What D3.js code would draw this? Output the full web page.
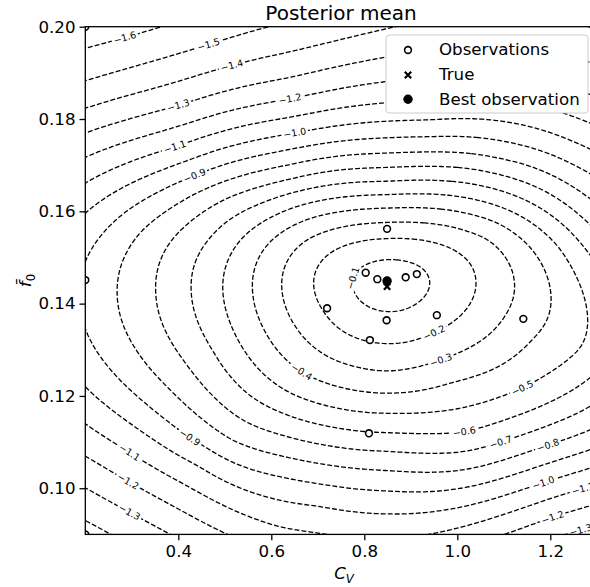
<!DOCTYPE html>
<html>
<head>
<meta charset="utf-8">
<script src="https://cdn.jsdelivr.net/npm/d3@7"></script>
<style>
  body { margin: 0; background: #fff; }
  svg { display: block; font-family: "DejaVu Sans", sans-serif; }
</style>
</head>
<body>
<svg id="chart" width="590" height="587"></svg>
<script>
// contour levels drawn (all negative -> dashed)
var levels = [-1.6, -1.5, -1.4, -1.3, -1.2, -1.1, -1.0, -0.9, -0.8, -0.7, -0.6, -0.5, -0.4, -0.3, -0.2, -0.1];
var xTicks = [0.4, 0.6, 0.8, 1.0, 1.2];
var yTicks = [0.10, 0.12, 0.14, 0.16, 0.18, 0.20];

// observed points
var obsCv = [0.849, 0.803, 0.828, 0.889, 0.913, 0.720, 0.848, 0.956, 1.142, 0.812, 0.810, 0.849, 0.2, 0.2, 0.2];
var obsF0 = [0.1562, 0.1467, 0.1453, 0.1457, 0.1464, 0.1390, 0.1364, 0.1375, 0.1367, 0.1321, 0.1119, 0.1449, 0.1451, 0.2, 0.09];
var trueCv = [0.849], trueF0 = [0.1437];
var bestCv = [0.849], bestF0 = [0.1449];

// posterior mean: [C_V, f0, value] at points lying on the contours
var contourSamples = [
  [0.849, 0.1449, -0.01],
  [0.769, 0.1458, -0.1], [0.790, 0.1484, -0.1], [0.849, 0.1497, -0.1], [0.920, 0.1490, -0.1],
  [0.941, 0.1451, -0.1], [0.920, 0.1408, -0.1], [0.849, 0.1390, -0.1], [0.783, 0.1419, -0.1],
  [0.690, 0.1451, -0.2], [0.733, 0.1516, -0.2], [0.849, 0.1538, -0.2], [0.978, 0.1527, -0.2], [1.036, 0.1451, -0.2],
  [1.013, 0.1380, -0.2], [0.948, 0.1343, -0.2], [0.849, 0.1317, -0.2], [0.812, 0.1321, -0.2], [0.720, 0.1390, -0.2],
  [0.623, 0.1445, -0.3], [0.673, 0.1542, -0.3], [0.849, 0.1575, -0.3], [1.070, 0.1553, -0.3], [1.120, 0.1451, -0.3],
  [1.081, 0.1343, -0.3], [0.969, 0.1271, -0.3], [0.849, 0.1247, -0.3], [0.726, 0.1282, -0.3], [0.651, 0.1353, -0.3],
  [0.561, 0.1430, -0.4], [0.597, 0.1538, -0.4], [0.683, 0.1585, -0.4], [0.849, 0.1607, -0.4], [1.049, 0.1585, -0.4],
  [1.156, 0.1527, -0.4], [1.199, 0.1449, -0.4], [1.146, 0.1332, -0.4], [0.984, 0.1245, -0.4], [0.849, 0.1206, -0.4],
  [0.662, 0.1252, -0.4], [0.587, 0.1343, -0.4],
  [0.496, 0.1430, -0.5], [0.533, 0.1538, -0.5], [0.640, 0.1607, -0.5], [0.849, 0.1635, -0.5], [1.092, 0.1607, -0.5],
  [1.221, 0.1527, -0.5], [1.270, 0.1423, -0.5], [1.285, 0.1300, -0.5], [1.141, 0.1213, -0.5], [0.849, 0.1165, -0.5],
  [0.640, 0.1202, -0.5], [0.533, 0.1310, -0.5],
  [0.429, 0.1430, -0.6], [0.468, 0.1538, -0.6], [0.576, 0.1614, -0.6], [0.640, 0.1640, -0.6], [0.849, 0.1663, -0.6],
  [1.092, 0.1646, -0.6], [1.285, 0.1501, -0.6], [1.285, 0.1245, -0.6], [1.017, 0.1113, -0.6], [0.810, 0.1119, -0.6],
  [0.619, 0.1170, -0.6], [0.479, 0.1300, -0.6],
  [0.354, 0.1430, -0.7], [0.393, 0.1549, -0.7], [0.509, 0.1635, -0.7], [0.640, 0.1668, -0.7], [0.849, 0.1694, -0.7],
  [1.092, 0.1679, -0.7], [1.285, 0.1566, -0.7], [1.285, 0.1178, -0.7], [1.092, 0.1100, -0.7], [0.849, 0.1083, -0.7],
  [0.554, 0.1137, -0.7], [0.414, 0.1278, -0.7],
  [0.270, 0.1430, -0.8], [0.318, 0.1560, -0.8], [0.436, 0.1646, -0.8], [0.640, 0.1696, -0.8], [0.849, 0.1726, -0.8],
  [1.092, 0.1711, -0.8], [1.285, 0.1624, -0.8], [1.285, 0.1122, -0.8], [1.193, 0.1093, -0.8], [0.849, 0.1039, -0.8],
  [0.509, 0.1098, -0.8], [0.339, 0.1256, -0.8],
  [0.200, 0.1501, -0.9], [0.436, 0.1672, -0.9], [0.640, 0.1737, -0.9], [0.849, 0.1759, -0.9], [0.985, 0.1763, -0.9],
  [1.285, 0.1683, -0.9], [1.285, 0.1083, -0.9], [0.849, 0.0996, -0.9], [0.619, 0.1029, -0.9], [0.421, 0.1108, -0.9],
  [0.200, 0.1338, -0.9],
  [0.200, 0.1596, -1.0], [0.651, 0.1770, -1.0], [0.941, 0.1793, -1.0], [1.285, 0.1733, -1.0], [1.285, 0.1044, -1.0],
  [1.184, 0.1013, -1.0], [0.849, 0.0949, -1.0], [0.701, 0.0968, -1.0], [0.447, 0.1057, -1.0], [0.200, 0.1219, -1.0],
  [0.200, 0.1661, -1.1], [0.393, 0.1737, -1.1], [0.640, 0.1802, -1.1], [1.285, 0.1791, -1.1], [1.270, 0.1000, -1.1],
  [0.926, 0.0899, -1.1], [0.849, 0.0877, -1.1], [0.619, 0.0910, -1.1], [0.292, 0.1083, -1.1], [0.200, 0.1139, -1.1],
  [0.200, 0.1718, -1.2], [0.640, 0.1841, -1.2], [0.984, 0.1895, -1.2], [1.285, 0.1852, -1.2], [1.285, 0.0964, -1.2],
  [1.204, 0.0938, -1.2], [1.092, 0.0899, -1.2], [0.509, 0.0899, -1.2], [0.292, 0.1013, -1.2], [0.200, 0.1070, -1.2],
  [0.200, 0.1770, -1.3], [0.399, 0.1826, -1.3], [0.640, 0.1889, -1.3], [1.049, 0.1971, -1.3], [1.264, 0.0910, -1.3],
  [1.227, 0.0899, -1.3], [0.386, 0.0899, -1.3], [0.296, 0.0949, -1.3], [0.200, 0.1002, -1.3],
  [0.200, 0.1822, -1.4], [0.515, 0.1917, -1.4], [0.640, 0.1945, -1.4], [0.862, 0.2000, -1.4], [0.253, 0.0899, -1.4],
  [0.200, 0.0927, -1.4],
  [0.200, 0.1880, -1.5], [0.464, 0.1960, -1.5], [0.580, 0.2000, -1.5],
  [0.200, 0.1954, -1.6], [0.285, 0.1976, -1.6], [0.361, 0.2000, -1.6],
  [0.200, 0.2000, -1.66], [0.200, 0.0900, -1.45], [1.300, 0.0900, -1.34]
];

// where the inline contour labels sit: [level, C_V, f0]
var labelSpots = [
  [-1.6, 0.285, 0.1976], [-1.5, 0.464, 0.1960], [-1.4, 0.515, 0.1917], [-1.3, 0.399, 0.1826],
  [-1.2, 0.640, 0.1841], [-1.1, 0.393, 0.1737], [-1.0, 0.651, 0.1770], [-0.9, 0.436, 0.1672],
  [-0.1, 0.769, 0.1458], [-0.2, 0.948, 0.1347], [-0.3, 0.969, 0.1271], [-0.4, 0.662, 0.1252],
  [-0.5, 1.141, 0.1213], [-0.6, 1.017, 0.1113], [-0.7, 1.092, 0.1100], [-0.8, 1.193, 0.1093],
  [-0.9, 0.421, 0.1108], [-1.0, 1.184, 0.1013], [-1.1, 0.292, 0.1076], [-1.1, 1.270, 0.1000],
  [-1.2, 0.292, 0.1013], [-1.2, 1.204, 0.0938], [-1.3, 0.296, 0.0949], [-1.3, 1.264, 0.0910]
];

var W = 590, H = 587;
var svg = d3.select("#chart");
var x = d3.scaleLinear().domain([0.2, 1.3]).range([85.3, 596.8]);
var y = d3.scaleLinear().domain([0.09, 0.2]).range([534.4, 26.7]);

// smooth surface through the samples (thin plate spline), so d3.contours can trace it
function kernel(r2) { return r2 > 1e-12 ? 0.5 * r2 * Math.log(r2) : 0; }
function fitField(samples, smoothing) {
  var n = samples.length, m = n + 3, i, j, k;
  var pts = samples.map(function(s) { return [(s[0] - 0.75) / 0.2, (s[1] - 0.145) / 0.02]; });
  var A = [], b = [];
  for (i = 0; i < m; i++) { A.push(new Float64Array(m)); b.push(0); }
  for (i = 0; i < n; i++) {
    for (j = 0; j < n; j++) {
      var dx = pts[i][0] - pts[j][0], dy = pts[i][1] - pts[j][1];
      A[i][j] = kernel(dx * dx + dy * dy);
    }
    A[i][i] += smoothing;
    A[i][n] = 1; A[i][n + 1] = pts[i][0]; A[i][n + 2] = pts[i][1];
    A[n][i] = 1; A[n + 1][i] = pts[i][0]; A[n + 2][i] = pts[i][1];
    b[i] = samples[i][2];
  }
  for (var c = 0; c < m; c++) {
    var p = c;
    for (var r = c + 1; r < m; r++) if (Math.abs(A[r][c]) > Math.abs(A[p][c])) p = r;
    var t = A[c]; A[c] = A[p]; A[p] = t;
    t = b[c]; b[c] = b[p]; b[p] = t;
    for (r = c + 1; r < m; r++) {
      var f = A[r][c] / A[c][c];
      if (f === 0) continue;
      for (k = c; k < m; k++) A[r][k] -= f * A[c][k];
      b[r] -= f * b[c];
    }
  }
  var wts = new Float64Array(m);
  for (r = m - 1; r >= 0; r--) {
    var s = b[r];
    for (k = r + 1; k < m; k++) s -= A[r][k] * wts[k];
    wts[r] = s / A[r][r];
  }
  return function(cv, f0) {
    var u = (cv - 0.75) / 0.2, w = (f0 - 0.145) / 0.02;
    var v = wts[n] + wts[n + 1] * u + wts[n + 2] * w;
    for (var q = 0; q < n; q++) {
      var ex = u - pts[q][0], ey = w - pts[q][1];
      v += wts[q] * kernel(ex * ex + ey * ey);
    }
    return v;
  };
}
var field = fitField(contourSamples, 0.3);

// grid a bit larger than the axes so the contour polygons' borders fall outside the clip
var nx = 241, ny = 241, gx0 = 0.15, gx1 = 1.35, gy0 = 0.085, gy1 = 0.205;
var sx = (gx1 - gx0) / (nx - 1), sy = (gy1 - gy0) / (ny - 1);
var grid = new Float64Array(nx * ny);
for (var j = 0; j < ny; j++)
  for (var i = 0; i < nx; i++)
    grid[j * nx + i] = field(gx0 + i * sx, gy0 + j * sy);

var contours = d3.contours().size([nx, ny]).thresholds(levels)(grid);
function toPx(p) { return [x(gx0 + (p[0] - 0.5) * sx), y(gy0 + (p[1] - 0.5) * sy)]; }
var path = d3.geoPath(d3.geoTransform({
  point: function(px, py) { var q = toPx([px, py]); this.stream.point(q[0], q[1]); }
}));

var defs = svg.append("defs");
defs.append("clipPath").attr("id", "plot-clip")
  .append("rect").attr("x", x(0.2)).attr("y", y(0.2))
  .attr("width", x(1.3) - x(0.2)).attr("height", y(0.09) - y(0.2));
var mask = defs.append("mask").attr("id", "label-gaps")
  .attr("maskUnits", "userSpaceOnUse").attr("x", 0).attr("y", 0).attr("width", W).attr("height", H);
mask.append("rect").attr("width", W).attr("height", H).attr("fill", "white");

svg.append("g")
    .attr("clip-path", "url(#plot-clip)")
  .append("g")
    .attr("mask", "url(#label-gaps)")
  .selectAll("path")
  .data(contours)
  .enter().append("path")
    .attr("d", path)
    .attr("fill", "none")
    .attr("stroke", "#000")
    .attr("stroke-width", 1.3)
    .attr("stroke-dasharray", "4.9,2.1");

// inline labels, turned along the contour they sit on
var fmt = d3.format(".1f");
var labelLayer = svg.append("g");
labelSpots.forEach(function(s) {
  var c = contours.find(function(d) { return Math.abs(d.value - s[0]) < 1e-9; });
  if (!c) return;
  var tx = x(s[1]), ty = y(s[2]), best = null;
  c.coordinates.forEach(function(poly) {
    poly.forEach(function(ring) {
      var pts = ring.map(toPx);
      pts.forEach(function(p, k) {
        var d = (p[0] - tx) * (p[0] - tx) + (p[1] - ty) * (p[1] - ty);
        if (!best || d < best.d) best = { d: d, pts: pts, k: k };
      });
    });
  });
  if (!best) return;
  var pts = best.pts, k = best.k, n = pts.length;
  var a = pts[(k - 3 + n) % n], b = pts[(k + 3) % n], p = pts[k];
  var ang = Math.atan2(b[1] - a[1], b[0] - a[0]) * 180 / Math.PI;
  if (ang >= 90) ang -= 180;
  if (ang < -90) ang += 180;
  var txt = labelLayer.append("text")
    .attr("transform", "translate(" + p[0] + "," + p[1] + ") rotate(" + ang + ")")
    .attr("text-anchor", "middle")
    .attr("dy", "0.35em")
    .attr("font-size", 9.5)
    .attr("fill", "#000")
    .text(fmt(s[0]));
  var tw = txt.node().getComputedTextLength();
  mask.append("rect")
    .attr("x", -tw / 2 - 2).attr("y", -5).attr("width", tw + 4).attr("height", 10)
    .attr("transform", "translate(" + p[0] + "," + p[1] + ") rotate(" + ang + ")")
    .attr("fill", "black");
});

// markers
var marks = svg.append("g").attr("clip-path", "url(#plot-clip)");
marks.selectAll("circle.obs")
  .data(d3.range(obsCv.length))
  .enter().append("circle")
    .attr("class", "obs")
    .attr("cx", function(i) { return x(obsCv[i]); })
    .attr("cy", function(i) { return y(obsF0[i]); })
    .attr("r", 3.4)
    .attr("fill", "#fff")
    .attr("stroke", "#000")
    .attr("stroke-width", 1.6);

function cross(cx, cy, h) {
  return "M" + (cx - h) + "," + (cy - h) + "L" + (cx + h) + "," + (cy + h) +
         "M" + (cx - h) + "," + (cy + h) + "L" + (cx + h) + "," + (cy - h);
}
marks.selectAll("path.true")
  .data(d3.range(trueCv.length))
  .enter().append("path")
    .attr("class", "true")
    .attr("d", function(i) { return cross(x(trueCv[i]), y(trueF0[i]), 3.2); })
    .attr("stroke", "#000")
    .attr("stroke-width", 2.2);

marks.selectAll("circle.best")
  .data(d3.range(bestCv.length))
  .enter().append("circle")
    .attr("class", "best")
    .attr("cx", function(i) { return x(bestCv[i]); })
    .attr("cy", function(i) { return y(bestF0[i]); })
    .attr("r", 4.7)
    .attr("fill", "#000");

// axes
var xAxis = svg.append("g")
    .attr("transform", "translate(0," + y(0.09) + ")")
    .call(d3.axisBottom(x).tickValues(xTicks).tickFormat(d3.format(".1f")).tickSize(5.8).tickPadding(5));
var yAxis = svg.append("g")
    .attr("transform", "translate(" + x(0.2) + ",0)")
    .call(d3.axisLeft(y).tickValues(yTicks).tickFormat(d3.format(".2f")).tickSize(5.8).tickPadding(4));
[xAxis, yAxis].forEach(function(g) {
  g.select(".domain").remove();
  g.selectAll(".tick line").attr("stroke", "#000").attr("stroke-width", 1.3);
  g.selectAll(".tick text").attr("font-size", 16.67).attr("fill", "#000")
    .attr("font-family", "DejaVu Sans, sans-serif");
});

// spines
svg.append("rect")
  .attr("x", x(0.2)).attr("y", y(0.2))
  .attr("width", x(1.3) - x(0.2)).attr("height", y(0.09) - y(0.2))
  .attr("fill", "none").attr("stroke", "#000").attr("stroke-width", 1.3);

svg.append("text")
  .attr("x", (x(0.2) + x(1.3)) / 2).attr("y", 19.5)
  .attr("text-anchor", "middle").attr("font-size", 20)
  .text("Posterior mean");

var xl = svg.append("text")
  .attr("x", (x(0.2) + x(1.3)) / 2 + 3).attr("y", 578.5)
  .attr("text-anchor", "middle").attr("font-size", 16.67).attr("font-style", "italic");
xl.append("tspan").text("C");
xl.append("tspan").attr("dy", 4).attr("font-size", 11.7).text("V");

var yl = svg.append("text")
  .attr("transform", "translate(31," + ((y(0.09) + y(0.2)) / 2) + ") rotate(-90)")
  .attr("text-anchor", "middle").attr("font-size", 16.67);
yl.append("tspan").attr("font-style", "italic").text("f\u0304");
yl.append("tspan").attr("dy", 4).attr("font-size", 11.7).text("0");

// legend
var lg = svg.append("g");
lg.append("rect")
  .attr("x", 386).attr("y", 35).attr("width", 202).attr("height", 78).attr("rx", 3)
  .attr("fill", "#fff")
  .attr("stroke", "#cccccc").attr("stroke-width", 1);
lg.append("circle").attr("cx", 408).attr("cy", 50).attr("r", 3.4)
  .attr("fill", "#fff").attr("stroke", "#000").attr("stroke-width", 1.6);
lg.append("path").attr("d", cross(408, 75, 3.2)).attr("stroke", "#000").attr("stroke-width", 2.2);
lg.append("circle").attr("cx", 408).attr("cy", 99.3).attr("r", 4.7).attr("fill", "#000");
var legendNames = ["Observations", "True", "Best observation"];
lg.selectAll("text.name")
  .data(legendNames)
  .enter().append("text")
    .attr("class", "name")
    .attr("x", 439)
    .attr("y", function(d, i) { return 55 + i * 24.8; })
    .attr("font-size", 16.67)
    .text(function(d) { return d; });
</script>
</body>
</html>
